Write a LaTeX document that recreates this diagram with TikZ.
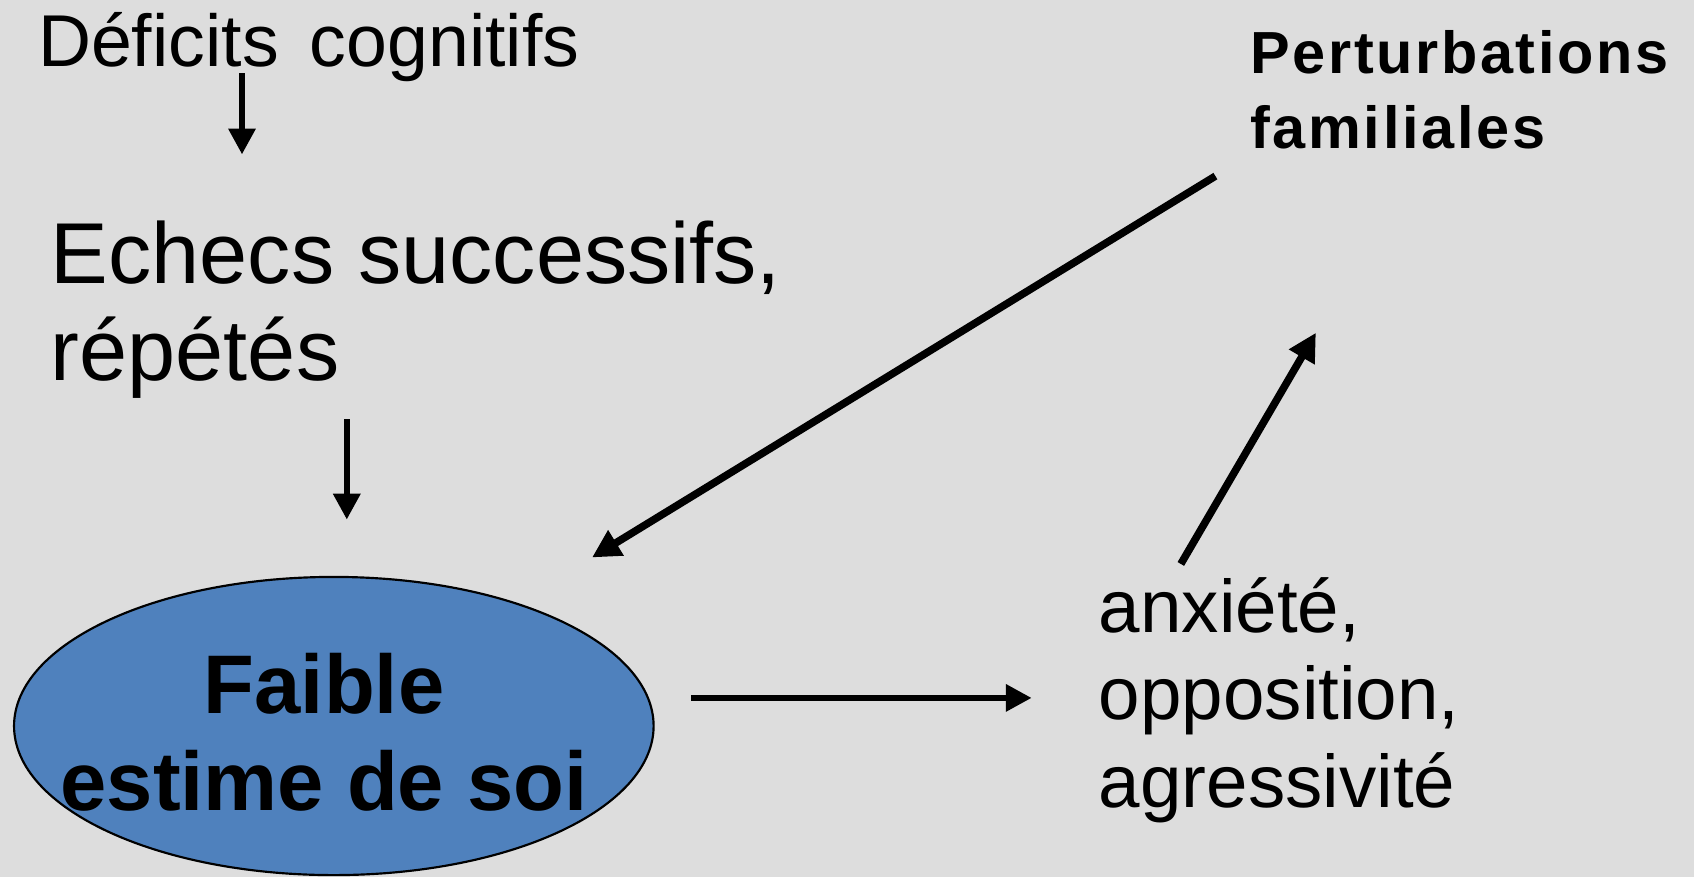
\documentclass[tikz,border=0pt]{standalone}
\usepackage{fontspec}
\setmainfont{Liberation Sans}
\usetikzlibrary{arrows.meta,shapes.geometric}
\definecolor{bgcol}{HTML}{DDDDDD}
\definecolor{ellblue}{HTML}{4F81BD}
\begin{document}
\begin{tikzpicture}[x=1pt,y=-1pt,
  lbl/.style={inner sep=0pt, anchor=base west},
  arr/.style={line width=6pt, -{Triangle[length=24pt,width=24pt]}},
  darr/.style={line width=7pt, -{Triangle[length=26pt,width=26pt]}},
]
\fill[bgcol] (0,0) rectangle (1568,812);
\useasboundingbox (0,0) rectangle (1568,812);

% texts
\node[lbl] (def) at (35,62) {\fontsize{68}{78}\selectfont Déficits\hspace{10pt} cognitifs};
\node[lbl] (ech) at (47,262) {\fontsize{80}{90}\selectfont\begin{tabular}[t]{@{}l@{}}Echecs successifs,\\répétés\end{tabular}};
\node[lbl] (per) at (1157,68) {\fontsize{55}{69}\selectfont\bfseries\addfontfeatures{LetterSpace=4.5}\begin{tabular}[t]{@{}l@{}}Perturbations\\familiales\end{tabular}};
\node[lbl] (anx) at (1017,585) {\fontsize{69}{81}\selectfont\begin{tabular}[t]{@{}l@{}}anxiété,\\opposition,\\agressivité\end{tabular}};

% ellipse
\node[ellipse, draw=black, line width=2pt, fill=ellblue, minimum width=592pt, minimum height=276pt, inner sep=0pt] (ell) at (309,672) {};
\node[inner sep=0pt, anchor=base] (fai) at (300,660) {\fontsize{77}{90}\selectfont\bfseries\begin{tabular}[t]{@{}c@{}}Faible\\estime de soi\end{tabular}};

% connector ends
\coordinate (a1s) at (224,68);  \coordinate (a1e) at (224,143);
\coordinate (a2s) at (321,388); \coordinate (a2e) at (321,481);
\coordinate (a3s) at (1125,163); \coordinate (a3e) at (548,516);
\coordinate (a4s) at (640,646); \coordinate (a4e) at (955,646);
\coordinate (a5s) at (1093,522); \coordinate (a5e) at (1218,308);

\draw[arr] (a1s) -- (a1e);
\draw[arr] (a2s) -- (a2e);
\draw[darr] (a3s) -- (a3e);
\draw[arr] (a4s) -- (a4e);
\draw[darr] (a5s) -- (a5e);
\end{tikzpicture}
\end{document}
